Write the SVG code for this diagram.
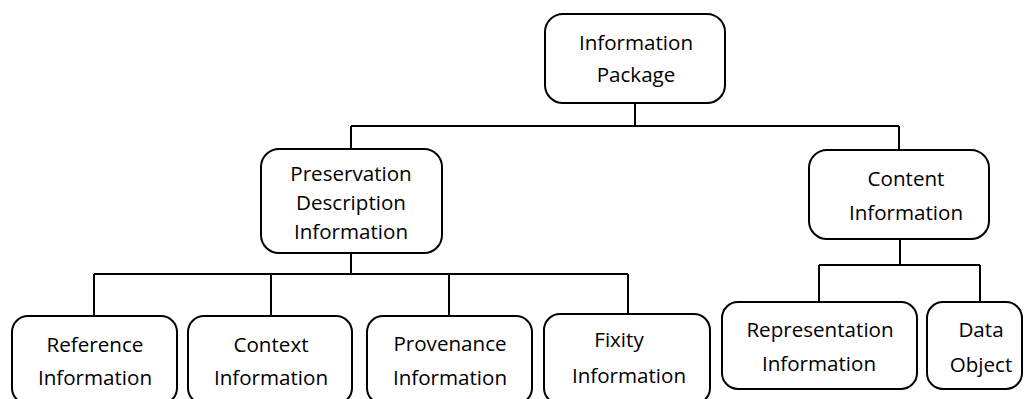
<svg xmlns="http://www.w3.org/2000/svg" width="1024" height="399" viewBox="0 0 1024 399">
  <style>
    .box { fill: #ffffff; stroke: #000000; stroke-width: 2; }
    .wire { fill: none; stroke: #000000; stroke-width: 2; }
    text { font-family: "Open Sans", "Liberation Sans", sans-serif; font-size: 20.6px; fill: #000000; text-anchor: middle; }
  </style>
  <rect width="1024" height="399" fill="#ffffff"/>

  <!-- tree connectors -->
  <g id="connectors">
    <path class="wire" d="M635 103 V126 M351 126 H899 M351 126 V149 M899 126 V150"/>
    <path class="wire" d="M351 253 V274 M94 274 H628 M94 274 V316 M271 274 V316 M449 274 V316 M628 274 V314"/>
    <path class="wire" d="M900 239 V265 M819 265 H980 M819 265 V302 M980 265 V302"/>
  </g>

  <g id="information-package">
    <rect class="box" x="545" y="14" width="180" height="89" rx="18"/>
    <text x="636" y="50">Information</text>
    <text x="636" y="82">Package</text>
  </g>

  <g id="preservation-description-information">
    <rect class="box" x="261" y="149" width="181" height="104" rx="18"/>
    <text x="351" y="181">Preservation</text>
    <text x="351" y="210">Description</text>
    <text x="351" y="239">Information</text>
  </g>

  <g id="content-information">
    <rect class="box" x="809" y="150" width="180" height="89" rx="18"/>
    <text x="906" y="186">Content</text>
    <text x="906" y="220">Information</text>
  </g>

  <g id="reference-information">
    <rect class="box" x="12" y="316" width="165" height="88" rx="16"/>
    <text x="95" y="352">Reference</text>
    <text x="95" y="385">Information</text>
  </g>

  <g id="context-information">
    <rect class="box" x="188" y="316" width="164" height="88" rx="16"/>
    <text x="271" y="352">Context</text>
    <text x="271" y="385">Information</text>
  </g>

  <g id="provenance-information">
    <rect class="box" x="367" y="316" width="165" height="88" rx="16"/>
    <text x="450" y="351">Provenance</text>
    <text x="450" y="385">Information</text>
  </g>

  <g id="fixity-information">
    <rect class="box" x="544" y="314" width="166" height="90" rx="16"/>
    <text x="619" y="347">Fixity</text>
    <text x="629" y="383">Information</text>
  </g>

  <g id="representation-information">
    <rect class="box" x="722" y="302" width="195" height="87" rx="16"/>
    <text x="820" y="337">Representation</text>
    <text x="819" y="371">Information</text>
  </g>

  <g id="data-object">
    <rect class="box" x="927" y="302" width="95" height="87" rx="16"/>
    <text x="981" y="337">Data</text>
    <text x="981" y="372">Object</text>
  </g>
</svg>
